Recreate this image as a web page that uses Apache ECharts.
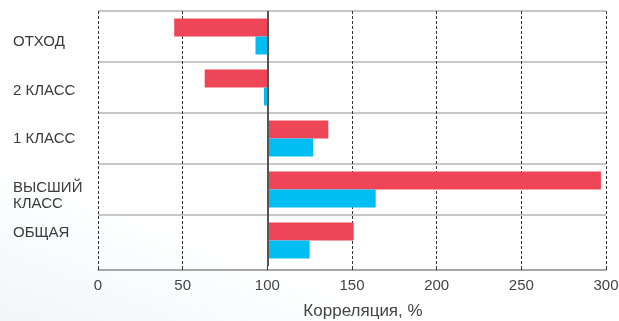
<!DOCTYPE html>
<html><head><meta charset="utf-8">
<script src="https://cdn.jsdelivr.net/npm/echarts@6/dist/echarts.min.js"></script>
<style>html,body{margin:0;padding:0;background:#fff}#c{width:619px;height:321px}</style>
</head><body><div id="c"></div>
<script>
var categories = ['ОТХОД', '2 КЛАСС', '1 КЛАСС', 'ВЫСШИЙ\nКЛАСС', 'ОБЩАЯ'];
var redValues = [45, 63, 136, 297, 151];
var blueValues = [93, 98, 127, 164, 125];
var baseline = 100;
var tickMin = 0, tickMax = 300, tickStep = 50;
var axisName = 'Корреляция, %';

// layout only: vertical nudge (px) of each category label, as in the original
var labelNudge = [5.5, 3.5, 0, 6, -8];

var chart = echarts.init(document.getElementById('c'), null, {renderer: 'canvas'});
var font = 'Liberation Sans, Arial, sans-serif';
var gridLine = '#b5b5b5';
chart.setOption({
  backgroundColor: {
    type: 'linear', x: 0.2, y: 0, x2: 0, y2: 1,
    colorStops: [{offset: 0, color: '#ffffff'}, {offset: 0.55, color: '#ffffff'}, {offset: 1, color: '#f2f5f8'}]
  },
  animation: false,
  grid: {left: 98, right: 13, top: 11, bottom: 55, containLabel: false, outerBoundsMode: 'none'},
  xAxis: {
    type: 'value',
    min: tickMin - baseline, max: tickMax - baseline, interval: tickStep,
    offset: 4,
    axisLine: {show: true, lineStyle: {color: '#8a8a8a', width: 1.5}},
    axisTick: {show: true, inside: true, length: 4, lineStyle: {color: '#333', width: 1}},
    axisLabel: {formatter: function (v) { return String(v + baseline); }, color: '#444', fontSize: 15, fontFamily: font, margin: 8},
    splitLine: {show: true, lineStyle: {color: '#333', width: 1, type: [3, 2]}},
    name: axisName, nameLocation: 'middle', nameGap: 32.5,
    nameTextStyle: {color: '#444', fontSize: 17, fontFamily: font, padding: [0, 0, 0, 22]}
  },
  yAxis: {
    type: 'category', data: categories, inverse: true,
    axisLine: {show: false}, axisTick: {show: false},
    axisLabel: {show: false},
    splitLine: {show: true, lineStyle: {color: [gridLine, gridLine, gridLine, gridLine, gridLine, 'rgba(0,0,0,0)'], width: 1.5}}
  },
  series: [
    {
      type: 'bar', name: 'red', data: redValues.map(function (v) { return v - baseline; }),
      barWidth: 18, barGap: '0%', itemStyle: {color: '#ee4657'},
      markLine: {silent: true, symbol: 'none', label: {show: false},
        lineStyle: {color: '#555', width: 2, type: 'solid'}, data: [{xAxis: 0}]}
    },
    {
      type: 'bar', name: 'blue', data: blueValues.map(function (v) { return v - baseline; }),
      barWidth: 18, barGap: '0%', itemStyle: {color: '#00bef2'}
    }
  ]
});

var labels = categories.map(function (c, i) {
  var y = chart.convertToPixel({yAxisIndex: 0}, i);
  return {
    type: 'text', x: 13, y: y + labelNudge[i], silent: true,
    style: {text: c, fill: '#3a3a3a', font: '15px ' + font, lineHeight: 16,
      align: 'left', verticalAlign: 'middle'}
  };
});
chart.setOption({graphic: labels});
</script></body></html>
